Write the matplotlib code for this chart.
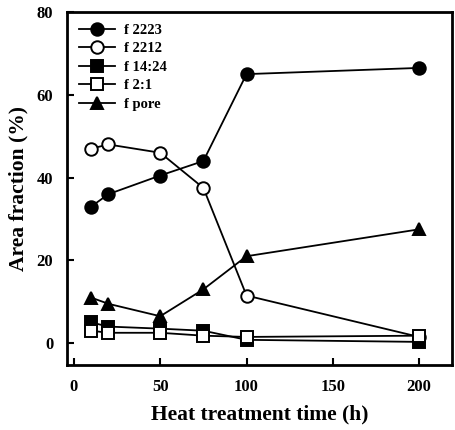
import matplotlib
matplotlib.use("Agg")
import matplotlib.pyplot as plt

time_h = [10, 20, 50, 75, 100, 200]
f2223 = [33, 36, 40.5, 44, 65, 66.5]
f2212 = [47, 48, 46, 37.5, 11.5, 1.5]
f1424 = [5, 4, 3.5, 3, 0.8, 0.3]
f21 = [3, 2.5, 2.5, 1.8, 1.5, 1.8]
fpore = [11, 9.5, 6.5, 13, 21, 27.5]
labels = ["f 2223", "f 2212", "f 14:24", "f 2:1", "f pore"]
xticks = [0, 50, 100, 150, 200]
yticks = [0, 20, 40, 60, 80]

plt.rcParams['font.family'] = ['Liberation Serif', 'DejaVu Serif']
plt.rcParams['font.weight'] = 'bold'

fig = plt.figure(figsize=(4.56, 4.30), dpi=100)
ax = fig.add_axes([0.147, 0.151, 0.844, 0.821])

kw = dict(color='black', lw=1.3, markersize=9, markeredgewidth=1.4)
ax.plot(time_h, f2223, marker='o', mfc='black', mec='black', label=labels[0], **kw)
ax.plot(time_h, f2212, marker='o', mfc='white', mec='black', label=labels[1], **kw)
ax.plot(time_h, f1424, marker='s', mfc='black', mec='black', label=labels[2], **kw)
ax.plot(time_h, f21, marker='s', mfc='white', mec='black', label=labels[3], **kw)
ax.plot(time_h, fpore, marker='^', mfc='black', mec='black', label=labels[4], **kw)

ax.set_xlim(-4, 219)
ax.set_ylim(-5.3, 80)
ax.set_xticks(xticks)
ax.set_yticks(yticks)
ax.tick_params(direction='in', length=5, width=1.5, labelsize=12, pad=10)
for lab in ax.get_xticklabels() + ax.get_yticklabels():
    lab.set_fontweight('bold')
for s in ax.spines.values():
    s.set_linewidth(2)

ax.set_xlabel("Heat treatment time (h)", fontsize=15.5, fontweight='bold', labelpad=7)
ax.set_ylabel("Area fraction (%)", fontsize=15.5, fontweight='bold', labelpad=6)

leg = ax.legend(loc='upper left', frameon=False, fontsize=10.5, handlelength=2.5,
                labelspacing=0.36, borderaxespad=0.5, borderpad=0.3, handletextpad=0.6)
for t in leg.get_texts():
    t.set_fontweight('bold')

fig.savefig("out.png", dpi=100)
